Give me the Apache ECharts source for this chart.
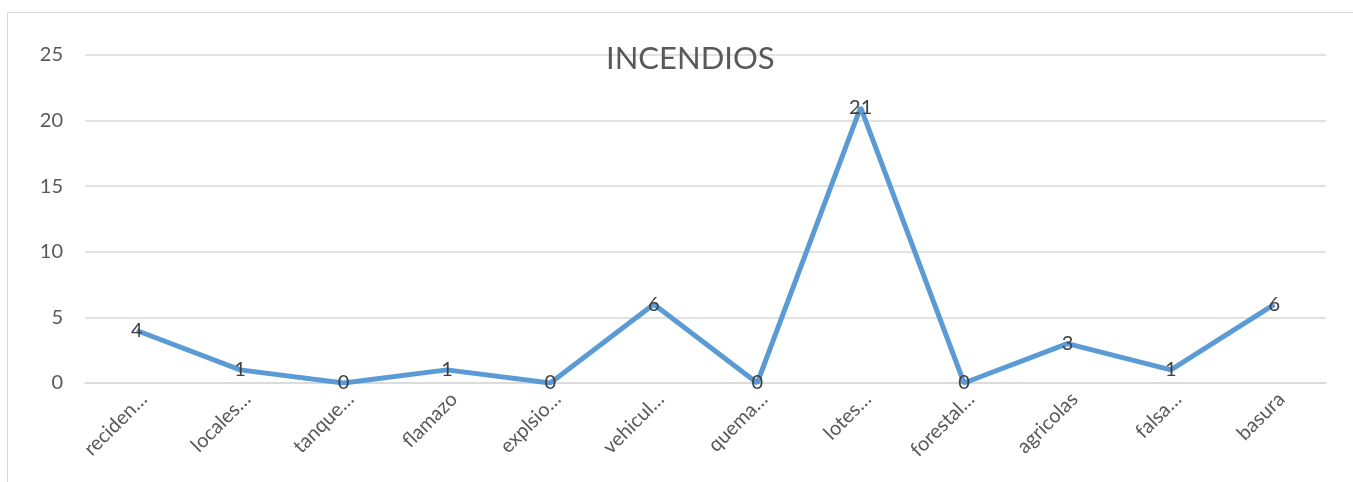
<!DOCTYPE html>
<html><head><meta charset="utf-8">
<script src="https://cdn.jsdelivr.net/npm/echarts@6/dist/echarts.min.js"></script>
<style>html,body{margin:0;padding:0;background:#fff;}#c{width:1353px;height:482px;}</style>
</head><body><div id="c"></div>
<script>
const categories = ["reciden…","locales…","tanque…","flamazo","explsio…","vehicul…","quema…","lotes…","forestal…","agricolas","falsa…","basura"];
const values = [4,1,0,1,0,6,0,21,0,3,1,6];
const yTicks = {min:0, max:25, interval:5};
const titleText = "INCENDIOS";

const FONT = 'Lato, "Noto Sans", sans-serif';
const chart = echarts.init(document.getElementById('c'));
chart.setOption({
  animation:false,
  textStyle:{fontFamily:FONT},
  title:{text:titleText,left:601,top:38,textStyle:{fontSize:31,fontWeight:'normal',color:'#595959',fontFamily:FONT}},
  graphic:[{type:'rect',silent:true,z:-10,shape:{x:7.5,y:12.5,width:1500,height:600},style:{fill:'none',stroke:'#d9d9d9',lineWidth:1}}],
  grid:{left:85,right:27,top:55,bottom:99},
  xAxis:{type:'category',data:categories,boundaryGap:true,
    axisLine:{show:true,lineStyle:{color:'#d9d9d9',width:1.5}},axisTick:{show:false},
    axisLabel:{rotate:45,interval:0,fontSize:20,color:'#595959',margin:20,fontFamily:FONT,padding:[0,-10,0,0]}},
  yAxis:{type:'value',min:yTicks.min,max:yTicks.max,interval:yTicks.interval,
    axisLine:{show:false},axisTick:{show:false},
    splitLine:{lineStyle:{color:'#d9d9d9',width:1.5}},
    axisLabel:{fontSize:20,color:'#595959',margin:22,fontFamily:FONT}},
  series:[{type:'line',data:values,symbol:'circle',symbolSize:0,showSymbol:true,
    itemStyle:{color:'#5b9bd5'},
    lineStyle:{color:'#5b9bd5',width:5},
    label:{show:true,position:'inside',fontSize:20,color:'#404040',opacity:1,fontFamily:FONT}}]
});
</script></body></html>
